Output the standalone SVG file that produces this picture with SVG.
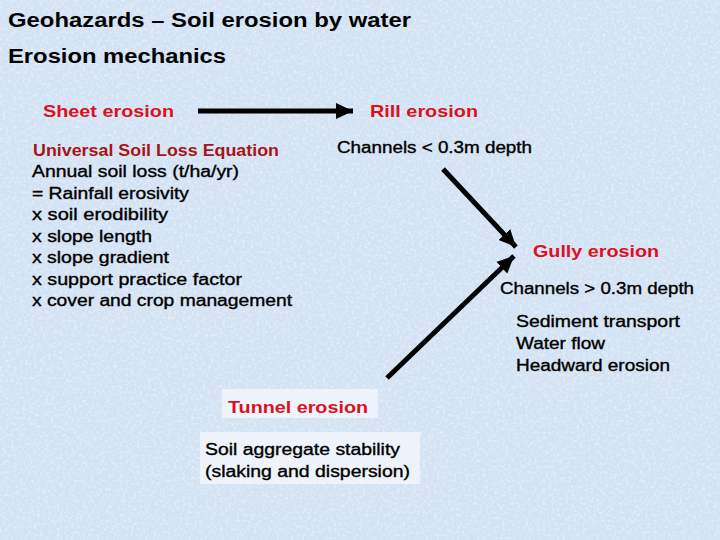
<svg xmlns="http://www.w3.org/2000/svg" width="720" height="540" viewBox="0 0 720 540">
<defs>
<style>
text{font-family:"Liberation Sans",Arial,sans-serif;fill:#000}
.t{font-size:20px;font-weight:bold}
.h{font-size:17px;font-weight:bold;fill:#dd1020}
.u{font-size:17px;font-weight:bold;fill:#a81414}
.b{font-size:16px;stroke:#000;stroke-width:0.35}
.conn{stroke:#000;stroke-width:5;fill:none;marker-end:url(#ah)}
.box{fill:#f2f6fb;opacity:0.85}
</style>
<marker id="ah" markerUnits="userSpaceOnUse" markerWidth="20" markerHeight="20" viewBox="0 0 20 20" refX="17" refY="10" orient="auto">
<path d="M0,2 L17,10 L0,18 z" fill="#000"/>
</marker>
<filter id="tex" x="0" y="0" width="100%" height="100%">
<feTurbulence type="fractalNoise" baseFrequency="0.35" numOctaves="2" seed="3" result="n"/>
<feColorMatrix in="n" type="matrix" values="0 0 0 0 1  0 0 0 0 1  0 0 0 0 1  0 0 0 1.6 -0.75"/>
</filter>
</defs>
<rect width="720" height="540" fill="#d3e3f4"/>
<rect width="720" height="540" filter="url(#tex)" opacity="0.7"/>

<g id="title">
<text class="t" x="8" y="27" textLength="403" lengthAdjust="spacingAndGlyphs">Geohazards – Soil erosion by water</text>
<text class="t" x="8" y="63" textLength="218" lengthAdjust="spacingAndGlyphs">Erosion mechanics</text>
</g>

<g id="connectors">
<line class="conn" x1="198" y1="111" x2="353" y2="111"/>
<line class="conn" x1="443" y1="169" x2="516" y2="247"/>
<line class="conn" x1="387" y1="378" x2="514" y2="256"/>
</g>

<g id="sheet">
<text class="h" x="43" y="117" textLength="131" lengthAdjust="spacingAndGlyphs">Sheet erosion</text>
<text class="u" x="33" y="156" textLength="246" lengthAdjust="spacingAndGlyphs">Universal Soil Loss Equation</text>
<text class="b" x="32" y="177" textLength="207" lengthAdjust="spacingAndGlyphs">Annual soil loss (t/ha/yr)</text>
<text class="b" x="32" y="199" textLength="157" lengthAdjust="spacingAndGlyphs">= Rainfall erosivity</text>
<text class="b" x="32" y="220" textLength="136" lengthAdjust="spacingAndGlyphs">x soil erodibility</text>
<text class="b" x="32" y="242" textLength="120" lengthAdjust="spacingAndGlyphs">x slope length</text>
<text class="b" x="32" y="263" textLength="137" lengthAdjust="spacingAndGlyphs">x slope gradient</text>
<text class="b" x="32" y="285" textLength="210" lengthAdjust="spacingAndGlyphs">x support practice factor</text>
<text class="b" x="32" y="306" textLength="260" lengthAdjust="spacingAndGlyphs">x cover and crop management</text>
</g>

<g id="rill">
<text class="h" x="370" y="117" textLength="108" lengthAdjust="spacingAndGlyphs">Rill erosion</text>
<text class="b" x="337" y="153" textLength="195" lengthAdjust="spacingAndGlyphs">Channels &lt; 0.3m depth</text>
</g>

<g id="gully">
<text class="h" x="533" y="257" textLength="126" lengthAdjust="spacingAndGlyphs">Gully erosion</text>
<text class="b" x="500" y="294" textLength="194" lengthAdjust="spacingAndGlyphs">Channels &gt; 0.3m depth</text>
<text class="b" x="516" y="327" textLength="164" lengthAdjust="spacingAndGlyphs">Sediment transport</text>
<text class="b" x="516" y="349" textLength="89" lengthAdjust="spacingAndGlyphs">Water flow</text>
<text class="b" x="516" y="371" textLength="154" lengthAdjust="spacingAndGlyphs">Headward erosion</text>
</g>

<g id="tunnel">
<rect class="box" x="222" y="389" width="156" height="29"/>
<text class="h" x="228" y="413" textLength="140" lengthAdjust="spacingAndGlyphs">Tunnel erosion</text>
<rect class="box" x="200" y="432" width="220" height="52"/>
<text class="b" x="205" y="455" textLength="195" lengthAdjust="spacingAndGlyphs">Soil aggregate stability</text>
<text class="b" x="205" y="477" textLength="205" lengthAdjust="spacingAndGlyphs">(slaking and dispersion)</text>
</g>
</svg>
